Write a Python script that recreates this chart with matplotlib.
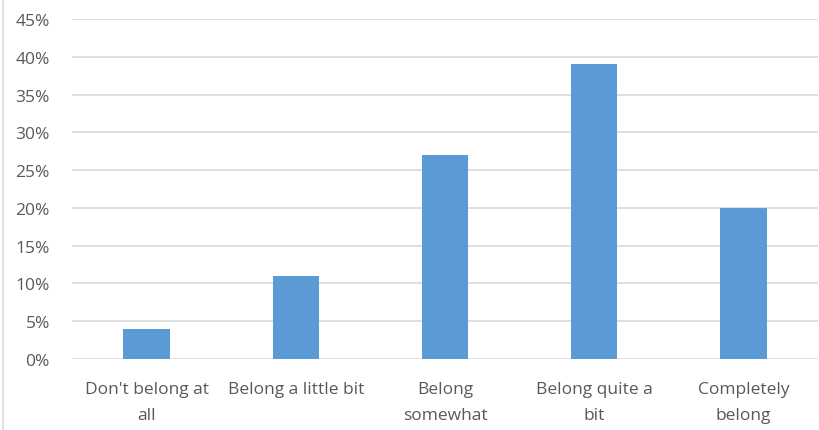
import matplotlib
matplotlib.use('Agg')
import matplotlib.pyplot as plt
from matplotlib.ticker import PercentFormatter
from matplotlib.lines import Line2D

# data
categories = ["Don't belong at\nall", "Belong a little bit", "Belong\nsomewhat",
              "Belong quite a\nbit", "Completely\nbelong"]
values = [4, 11, 27, 39, 20]
yticks = [0, 5, 10, 15, 20, 25, 30, 35, 40, 45]

plt.rcParams['font.family'] = ['Open Sans', 'DejaVu Sans']
text_color = '#595959'

fig = plt.figure(figsize=(8.19, 4.31), dpi=100)
ax = fig.add_axes([72 / 819, 1 - 360 / 431, 746 / 819, 340 / 431])

x = range(len(categories))
ax.bar(x, values, width=0.31, color='#5B9BD5', zorder=3)

ax.set_xlim(-0.5, len(categories) - 0.5)
ax.set_ylim(0, 45)
ax.set_yticks(yticks)
ax.yaxis.set_major_formatter(PercentFormatter(decimals=0))
ax.set_xticks(list(x))
ax.set_xticklabels(categories, linespacing=1.85)

ax.grid(axis='y', color='#D9D9D9', linewidth=1.2, zorder=0)
for s in ax.spines.values():
    s.set_visible(False)
ax.tick_params(axis='both', length=0, colors=text_color, labelsize=12.5)
ax.tick_params(axis='x', pad=16)
ax.tick_params(axis='y', pad=16)

# outer chart border on the left
fig.add_artist(Line2D([3 / 819, 3 / 819], [0, 1], transform=fig.transFigure,
                      color='#D9D9D9', linewidth=1.2))

fig.savefig('out.png', dpi=100)
